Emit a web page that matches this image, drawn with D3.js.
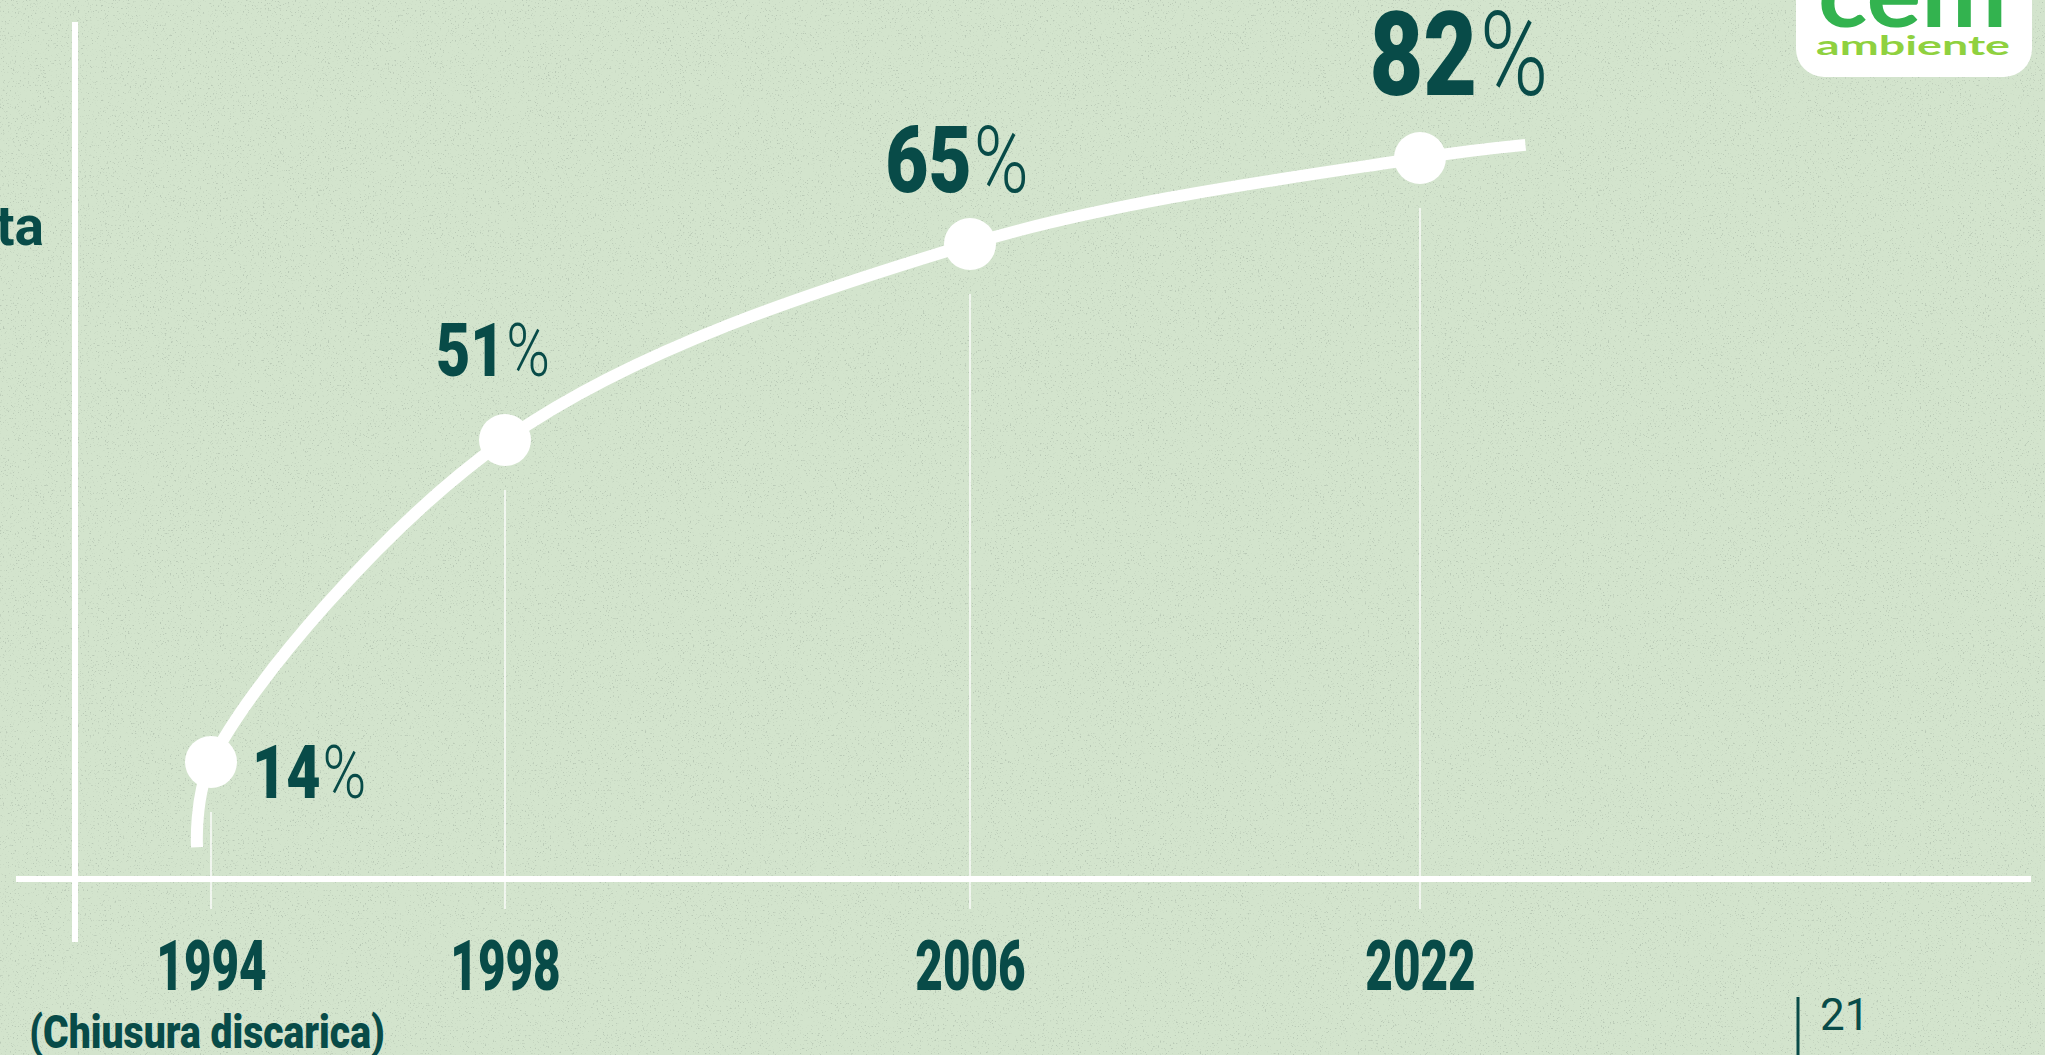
<!DOCTYPE html>
<html><head><meta charset="utf-8">
<script src="https://cdn.jsdelivr.net/npm/d3@7"></script>
<style>
html,body{margin:0;padding:0;background:#d3e4cd;overflow:hidden;}
svg{display:block;}
</style></head><body>
<svg id="chart" width="2045" height="1055"></svg>
<script>
// ---------- data ----------
const years = [1994, 1998, 2006, 2022];
const values = [14, 51, 65, 82];
const yearLabels = ["1994", "1998", "2006", "2022"];
const yearNotes = ["(Chiusura discarica)", "", "", ""];
// decorative lead-in / lead-out of the curve (data units)
const curveLead = [1993.81, 4.2];
const curveTail = [2025.75, 84.6];
const pageNumber = "21";
const sideWord = "ta";
const logoTop = "cem";
const logoBottom = "ambiente";

// ---------- layout ----------
const W = 2045, H = 1055;
const xStops = [211, 505, 970, 1420];
const yStops = [762, 440, 244, 158];
const axisY = 879, axisX = 75;
const teal = "#084b48";
const cond = "Roboto, 'Liberation Sans', sans-serif";
const labelLayout = [
  {anchor: "start", dx: 41, dy: 36},
  {anchor: "middle", dx: -12, dy: -64},
  {anchor: "middle", dx: -13, dy: -52},
  {anchor: "middle", dx: 39, dy: -63}
];

const svg = d3.select("#chart");
const x = d3.scaleLinear().domain(years).range(xStops);
const y = d3.scaleLinear().domain(values).range(yStops);
const sizeScale = d3.scaleLinear().domain([51, 82]).range([74, 116]).clamp(true);

// background + grain
svg.append("rect").attr("width", W).attr("height", H).attr("fill", "#d3e4cd");
const defs = svg.append("defs");
const f = defs.append("filter").attr("id", "grain").attr("x", 0).attr("y", 0).attr("width", "100%").attr("height", "100%");
f.append("feTurbulence").attr("type", "fractalNoise").attr("baseFrequency", 0.6).attr("numOctaves", 2).attr("seed", 7).attr("result", "n");
f.append("feColorMatrix").attr("in", "n").attr("type", "matrix")
  .attr("values", "0 0 0 0 0.33  0 0 0 0 0.40  0 0 0 0 0.33  7 0 0 0 -4.4");
svg.append("rect").attr("width", W).attr("height", H).attr("filter", "url(#grain)").attr("opacity", 0.45);

// axes lines
svg.append("line").attr("x1", 16).attr("x2", 2031).attr("y1", axisY).attr("y2", axisY)
  .attr("stroke", "#fff").attr("stroke-width", 6);
svg.append("line").attr("x1", axisX).attr("x2", axisX).attr("y1", 22).attr("y2", 942)
  .attr("stroke", "#fff").attr("stroke-width", 6);

// drop lines
svg.append("g").selectAll("line").data(years).join("line")
  .attr("x1", d => x(d)).attr("x2", d => x(d))
  .attr("y1", (d, i) => y(values[i]) + 50).attr("y2", axisY + 30)
  .attr("stroke", "#fff").attr("stroke-opacity", 0.9).attr("stroke-width", 1.5);

// curve
const pts = [curveLead, ...years.map((d, i) => [d, values[i]]), curveTail];
const line = d3.line().x(d => x(d[0])).y(d => y(d[1])).curve(d3.curveCatmullRom.alpha(0.5));
svg.append("path").attr("d", line(pts)).attr("fill", "none")
  .attr("stroke", "#fff").attr("stroke-width", 12);

// dots
svg.append("g").selectAll("circle").data(years).join("circle")
  .attr("cx", d => x(d)).attr("cy", (d, i) => y(values[i])).attr("r", 26).attr("fill", "#fff");

// value labels
const lab = svg.append("g").selectAll("g").data(values).join("g")
  .attr("transform", (d, i) => `translate(${x(years[i]) + labelLayout[i].dx},${y(d) + labelLayout[i].dy})`);
const lt = lab.append("text")
  .attr("transform", "scale(0.8,1)")
  .attr("text-anchor", (d, i) => labelLayout[i].anchor)
  .attr("font-family", cond).attr("font-weight", 900)
  .attr("font-size", d => sizeScale(d)).attr("fill", teal);
lt.append("tspan").text(d => d);
lt.append("tspan").attr("font-weight", 300).attr("dx", "0.03em").text("%");

// x axis (year labels)
const xAxis = d3.axisBottom(x).tickValues(years).tickSize(0).tickFormat((d, i) => yearLabels[i]);
const gx = svg.append("g").attr("transform", `translate(0,${axisY})`).call(xAxis);
gx.select(".domain").remove();
gx.selectAll("text").attr("y", 111).attr("dy", 0)
  .attr("font-size", 70).attr("font-family", cond).attr("font-weight", 900)
  .attr("fill", teal).attr("transform", "scale(0.68,1)");

// year notes
svg.append("g").selectAll("g").data(years.filter((d, i) => yearNotes[i])).join("g")
  .attr("transform", d => `translate(${x(d) - 4},1048)`)
  .append("text").attr("transform", "scale(0.85,1)")
  .attr("text-anchor", "middle").attr("font-family", cond).attr("font-weight", 900)
  .attr("font-size", 46).attr("fill", teal)
  .text(d => yearNotes[years.indexOf(d)]);

// cut-off side word
svg.append("text").attr("x", 44).attr("y", 245).attr("text-anchor", "end")
  .attr("font-family", "Roboto, sans-serif").attr("font-weight", 700).attr("font-size", 55)
  .attr("fill", teal).text(sideWord);

// logo
const logo = svg.append("g");
logo.append("rect").attr("x", 1796).attr("y", -40).attr("width", 236).attr("height", 117)
  .attr("rx", 28).attr("fill", "#fff");
logo.append("text").attr("x", 1818).attr("y", 27).attr("font-family", "Lato, sans-serif")
  .attr("font-weight", 700).attr("font-size", 92).attr("fill", "#33b34f")
  .attr("textLength", 189).attr("lengthAdjust", "spacingAndGlyphs").text(logoTop);
logo.append("text").attr("x", 1816).attr("y", 55).attr("font-family", "Lato, sans-serif")
  .attr("font-weight", 700).attr("font-size", 26).attr("fill", "#8fd13f")
  .attr("textLength", 194).attr("lengthAdjust", "spacingAndGlyphs").text(logoBottom);

// page number
svg.append("line").attr("x1", 1798).attr("x2", 1798).attr("y1", 997).attr("y2", 1055)
  .attr("stroke", teal).attr("stroke-width", 3);
svg.append("text").attr("x", 1820).attr("y", 1030).attr("font-family", "Roboto, sans-serif")
  .attr("font-weight", 400).attr("font-size", 44).attr("fill", teal).text(pageNumber);
</script>
</body></html>
